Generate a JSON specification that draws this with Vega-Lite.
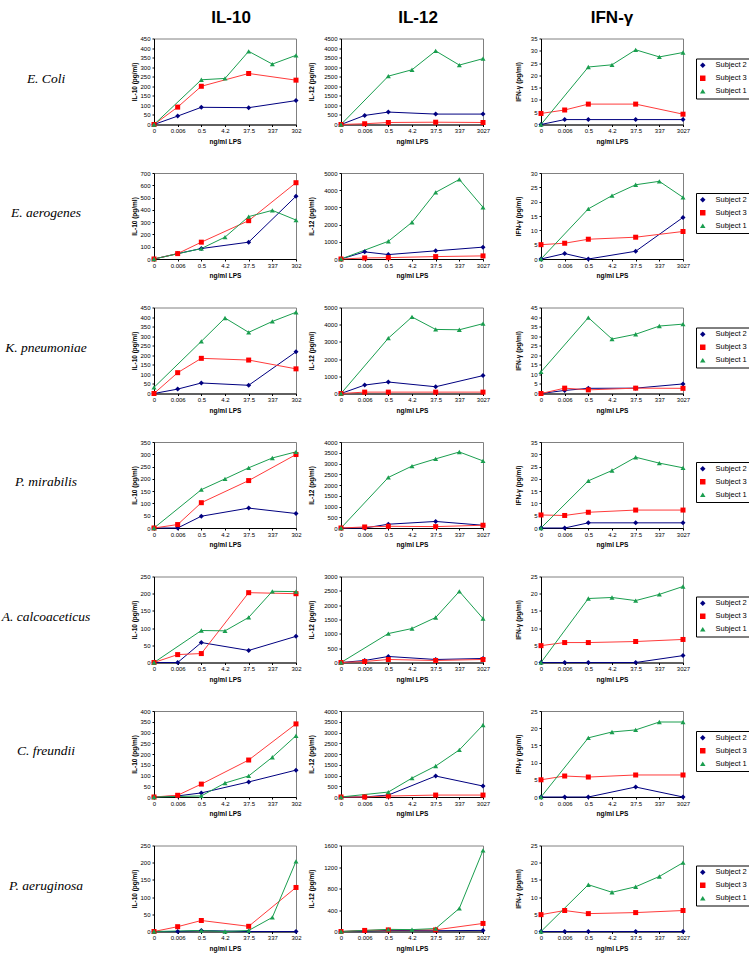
{
"$schema":"https://vega.github.io/schema/vega-lite/v6.json",
"background":"white",
"padding":{"top":7.5,"left":0,"right":0,"bottom":0},
"config":{
"numberFormat":"d",
"view":{"stroke":"#808080","strokeWidth":1},
"axis":{"labelFont":"Liberation Sans","labelFontSize":6,"labelColor":"#000","titleFont":"Liberation Sans","titleFontSize":6.5,"titleFontWeight":"bold","titleColor":"#000","tickColor":"#000","tickSize":2,"domainColor":"#000","grid":false,"labelOverlap":false},
"axisX":{"labelAngle":0,"labelPadding":1,"titlePadding":4.5},
"axisY":{"labelPadding":2},
"legend":{"labelFont":"Liberation Sans","labelFontSize":7.5,"labelColor":"#000","strokeColor":"#000","fillColor":"#fff","padding":3,"symbolSize":30,"rowPadding":4,"labelOffset":9,"symbolStrokeWidth":0},
"line":{"strokeWidth":1},
"point":{"filled":true,"opacity":1,"size":25}
},
"datasets":{
"ec_10":[{"dose":0,"subject":"Subject 2","value":0},{"dose":0.006,"subject":"Subject 2","value":44},{"dose":0.5,"subject":"Subject 2","value":90},{"dose":37.5,"subject":"Subject 2","value":88},{"dose":3027,"subject":"Subject 2","value":125},{"dose":0,"subject":"Subject 3","value":0},{"dose":0.006,"subject":"Subject 3","value":91},{"dose":0.5,"subject":"Subject 3","value":200},{"dose":37.5,"subject":"Subject 3","value":267},{"dose":3027,"subject":"Subject 3","value":232},{"dose":0,"subject":"Subject 1","value":0},{"dose":0.5,"subject":"Subject 1","value":234},{"dose":4.2,"subject":"Subject 1","value":241},{"dose":37.5,"subject":"Subject 1","value":383},{"dose":337,"subject":"Subject 1","value":316},{"dose":3027,"subject":"Subject 1","value":362}],
"ec_12":[{"dose":0,"subject":"Subject 2","value":0},{"dose":0.006,"subject":"Subject 2","value":475},{"dose":0.5,"subject":"Subject 2","value":650},{"dose":37.5,"subject":"Subject 2","value":545},{"dose":3027,"subject":"Subject 2","value":545},{"dose":0,"subject":"Subject 3","value":0},{"dose":0.006,"subject":"Subject 3","value":40},{"dose":0.5,"subject":"Subject 3","value":105},{"dose":37.5,"subject":"Subject 3","value":120},{"dose":3027,"subject":"Subject 3","value":105},{"dose":0,"subject":"Subject 1","value":0},{"dose":0.5,"subject":"Subject 1","value":2530},{"dose":4.2,"subject":"Subject 1","value":2865},{"dose":37.5,"subject":"Subject 1","value":3850},{"dose":337,"subject":"Subject 1","value":3110},{"dose":3027,"subject":"Subject 1","value":3445}],
"ec_g":[{"dose":0,"subject":"Subject 2","value":0},{"dose":0.006,"subject":"Subject 2","value":2},{"dose":0.5,"subject":"Subject 2","value":2},{"dose":37.5,"subject":"Subject 2","value":2},{"dose":3027,"subject":"Subject 2","value":2},{"dose":0,"subject":"Subject 3","value":4.5},{"dose":0.006,"subject":"Subject 3","value":5.9},{"dose":0.5,"subject":"Subject 3","value":8.3},{"dose":37.5,"subject":"Subject 3","value":8.3},{"dose":3027,"subject":"Subject 3","value":4.2},{"dose":0,"subject":"Subject 1","value":0},{"dose":0.5,"subject":"Subject 1","value":23.4},{"dose":4.2,"subject":"Subject 1","value":24.3},{"dose":37.5,"subject":"Subject 1","value":30.4},{"dose":337,"subject":"Subject 1","value":27.5},{"dose":3027,"subject":"Subject 1","value":29.3}],
"ea_10":[{"dose":0,"subject":"Subject 2","value":0},{"dose":0.006,"subject":"Subject 2","value":44},{"dose":0.5,"subject":"Subject 2","value":85},{"dose":37.5,"subject":"Subject 2","value":137},{"dose":3027,"subject":"Subject 2","value":511},{"dose":0,"subject":"Subject 3","value":0},{"dose":0.006,"subject":"Subject 3","value":44},{"dose":0.5,"subject":"Subject 3","value":137},{"dose":37.5,"subject":"Subject 3","value":312},{"dose":3027,"subject":"Subject 3","value":621},{"dose":0,"subject":"Subject 1","value":0},{"dose":0.5,"subject":"Subject 1","value":85},{"dose":4.2,"subject":"Subject 1","value":178},{"dose":37.5,"subject":"Subject 1","value":345},{"dose":337,"subject":"Subject 1","value":396},{"dose":3027,"subject":"Subject 1","value":317}],
"ea_12":[{"dose":0,"subject":"Subject 2","value":0},{"dose":0.006,"subject":"Subject 2","value":415},{"dose":0.5,"subject":"Subject 2","value":257},{"dose":37.5,"subject":"Subject 2","value":474},{"dose":3027,"subject":"Subject 2","value":690},{"dose":0,"subject":"Subject 3","value":0},{"dose":0.006,"subject":"Subject 3","value":60},{"dose":0.5,"subject":"Subject 3","value":80},{"dose":37.5,"subject":"Subject 3","value":140},{"dose":3027,"subject":"Subject 3","value":180},{"dose":0,"subject":"Subject 1","value":0},{"dose":0.5,"subject":"Subject 1","value":1030},{"dose":4.2,"subject":"Subject 1","value":2135},{"dose":37.5,"subject":"Subject 1","value":3875},{"dose":337,"subject":"Subject 1","value":4625},{"dose":3027,"subject":"Subject 1","value":3005}],
"ea_g":[{"dose":0,"subject":"Subject 2","value":0},{"dose":0.006,"subject":"Subject 2","value":1.9},{"dose":0.5,"subject":"Subject 2","value":0},{"dose":37.5,"subject":"Subject 2","value":2.7},{"dose":3027,"subject":"Subject 2","value":14.5},{"dose":0,"subject":"Subject 3","value":5.0},{"dose":0.006,"subject":"Subject 3","value":5.5},{"dose":0.5,"subject":"Subject 3","value":6.9},{"dose":37.5,"subject":"Subject 3","value":7.6},{"dose":3027,"subject":"Subject 3","value":9.6},{"dose":0,"subject":"Subject 1","value":0},{"dose":0.5,"subject":"Subject 1","value":17.5},{"dose":4.2,"subject":"Subject 1","value":22.1},{"dose":37.5,"subject":"Subject 1","value":25.9},{"dose":337,"subject":"Subject 1","value":27.1},{"dose":3027,"subject":"Subject 1","value":21.5}],
"kp_10":[{"dose":0,"subject":"Subject 2","value":0},{"dose":0.006,"subject":"Subject 2","value":23},{"dose":0.5,"subject":"Subject 2","value":55},{"dose":37.5,"subject":"Subject 2","value":43},{"dose":3027,"subject":"Subject 2","value":218},{"dose":0,"subject":"Subject 3","value":0},{"dose":0.006,"subject":"Subject 3","value":109},{"dose":0.5,"subject":"Subject 3","value":184},{"dose":37.5,"subject":"Subject 3","value":175},{"dose":3027,"subject":"Subject 3","value":129},{"dose":0,"subject":"Subject 1","value":32},{"dose":0.5,"subject":"Subject 1","value":273},{"dose":4.2,"subject":"Subject 1","value":395},{"dose":37.5,"subject":"Subject 1","value":320},{"dose":337,"subject":"Subject 1","value":377},{"dose":3027,"subject":"Subject 1","value":425}],
"kp_12":[{"dose":0,"subject":"Subject 2","value":0},{"dose":0.006,"subject":"Subject 2","value":490},{"dose":0.5,"subject":"Subject 2","value":667},{"dose":37.5,"subject":"Subject 2","value":392},{"dose":3027,"subject":"Subject 2","value":1040},{"dose":0,"subject":"Subject 3","value":0},{"dose":0.006,"subject":"Subject 3","value":80},{"dose":0.5,"subject":"Subject 3","value":80},{"dose":37.5,"subject":"Subject 3","value":80},{"dose":3027,"subject":"Subject 3","value":80},{"dose":0,"subject":"Subject 1","value":0},{"dose":0.5,"subject":"Subject 1","value":3215},{"dose":4.2,"subject":"Subject 1","value":4450},{"dose":37.5,"subject":"Subject 1","value":3725},{"dose":337,"subject":"Subject 1","value":3705},{"dose":3027,"subject":"Subject 1","value":4060}],
"kp_g":[{"dose":0,"subject":"Subject 2","value":0},{"dose":0.006,"subject":"Subject 2","value":1.6},{"dose":0.5,"subject":"Subject 2","value":2.7},{"dose":37.5,"subject":"Subject 2","value":2.8},{"dose":3027,"subject":"Subject 2","value":5.0},{"dose":0,"subject":"Subject 3","value":0},{"dose":0.006,"subject":"Subject 3","value":2.8},{"dose":0.5,"subject":"Subject 3","value":1.9},{"dose":37.5,"subject":"Subject 3","value":2.8},{"dose":3027,"subject":"Subject 3","value":2.7},{"dose":0,"subject":"Subject 1","value":11.3},{"dose":0.5,"subject":"Subject 1","value":39.7},{"dose":4.2,"subject":"Subject 1","value":28.5},{"dose":37.5,"subject":"Subject 1","value":31.0},{"dose":337,"subject":"Subject 1","value":35.3},{"dose":3027,"subject":"Subject 1","value":36.3}],
"pm_10":[{"dose":0,"subject":"Subject 2","value":0},{"dose":0.006,"subject":"Subject 2","value":0},{"dose":0.5,"subject":"Subject 2","value":48},{"dose":37.5,"subject":"Subject 2","value":81},{"dose":3027,"subject":"Subject 2","value":59},{"dose":0,"subject":"Subject 3","value":0},{"dose":0.006,"subject":"Subject 3","value":14},{"dose":0.5,"subject":"Subject 3","value":103},{"dose":37.5,"subject":"Subject 3","value":193},{"dose":3027,"subject":"Subject 3","value":299},{"dose":0,"subject":"Subject 1","value":0},{"dose":0.5,"subject":"Subject 1","value":156},{"dose":4.2,"subject":"Subject 1","value":200},{"dose":37.5,"subject":"Subject 1","value":245},{"dose":337,"subject":"Subject 1","value":285},{"dose":3027,"subject":"Subject 1","value":310}],
"pm_12":[{"dose":0,"subject":"Subject 2","value":0},{"dose":0.006,"subject":"Subject 2","value":0},{"dose":0.5,"subject":"Subject 2","value":176},{"dose":37.5,"subject":"Subject 2","value":304},{"dose":3027,"subject":"Subject 2","value":128},{"dose":0,"subject":"Subject 3","value":0},{"dose":0.006,"subject":"Subject 3","value":48},{"dose":0.5,"subject":"Subject 3","value":80},{"dose":37.5,"subject":"Subject 3","value":64},{"dose":3027,"subject":"Subject 3","value":128},{"dose":0,"subject":"Subject 1","value":0},{"dose":0.5,"subject":"Subject 1","value":2352},{"dose":4.2,"subject":"Subject 1","value":2880},{"dose":37.5,"subject":"Subject 1","value":3216},{"dose":337,"subject":"Subject 1","value":3536},{"dose":3027,"subject":"Subject 1","value":3120}],
"pm_g":[{"dose":0,"subject":"Subject 2","value":0},{"dose":0.006,"subject":"Subject 2","value":0},{"dose":0.5,"subject":"Subject 2","value":2.1},{"dose":37.5,"subject":"Subject 2","value":2.1},{"dose":3027,"subject":"Subject 2","value":2.1},{"dose":0,"subject":"Subject 3","value":5.3},{"dose":0.006,"subject":"Subject 3","value":5.1},{"dose":0.5,"subject":"Subject 3","value":6.4},{"dose":37.5,"subject":"Subject 3","value":7.3},{"dose":3027,"subject":"Subject 3","value":7.3},{"dose":0,"subject":"Subject 1","value":0},{"dose":0.5,"subject":"Subject 1","value":19.2},{"dose":4.2,"subject":"Subject 1","value":23.4},{"dose":37.5,"subject":"Subject 1","value":28.8},{"dose":337,"subject":"Subject 1","value":26.4},{"dose":3027,"subject":"Subject 1","value":24.5}],
"ac_10":[{"dose":0,"subject":"Subject 2","value":0},{"dose":0.006,"subject":"Subject 2","value":0},{"dose":0.5,"subject":"Subject 2","value":58},{"dose":37.5,"subject":"Subject 2","value":35},{"dose":3027,"subject":"Subject 2","value":76},{"dose":0,"subject":"Subject 3","value":0},{"dose":0.006,"subject":"Subject 3","value":23},{"dose":0.5,"subject":"Subject 3","value":26},{"dose":37.5,"subject":"Subject 3","value":203},{"dose":3027,"subject":"Subject 3","value":200},{"dose":0,"subject":"Subject 1","value":0},{"dose":0.5,"subject":"Subject 1","value":93},{"dose":4.2,"subject":"Subject 1","value":92},{"dose":37.5,"subject":"Subject 1","value":131},{"dose":337,"subject":"Subject 1","value":207},{"dose":3027,"subject":"Subject 1","value":206}],
"ac_12":[{"dose":0,"subject":"Subject 2","value":0},{"dose":0.006,"subject":"Subject 2","value":70},{"dose":0.5,"subject":"Subject 2","value":210},{"dose":37.5,"subject":"Subject 2","value":105},{"dose":3027,"subject":"Subject 2","value":140},{"dose":0,"subject":"Subject 3","value":0},{"dose":0.006,"subject":"Subject 3","value":35},{"dose":0.5,"subject":"Subject 3","value":105},{"dose":37.5,"subject":"Subject 3","value":70},{"dose":3027,"subject":"Subject 3","value":105},{"dose":0,"subject":"Subject 1","value":0},{"dose":0.5,"subject":"Subject 1","value":1010},{"dose":4.2,"subject":"Subject 1","value":1185},{"dose":37.5,"subject":"Subject 1","value":1570},{"dose":337,"subject":"Subject 1","value":2480},{"dose":3027,"subject":"Subject 1","value":1535}],
"ac_g":[{"dose":0,"subject":"Subject 2","value":0},{"dose":0.006,"subject":"Subject 2","value":0},{"dose":0.5,"subject":"Subject 2","value":0},{"dose":37.5,"subject":"Subject 2","value":0},{"dose":3027,"subject":"Subject 2","value":2.0},{"dose":0,"subject":"Subject 3","value":4.9},{"dose":0.006,"subject":"Subject 3","value":5.8},{"dose":0.5,"subject":"Subject 3","value":5.8},{"dose":37.5,"subject":"Subject 3","value":6.1},{"dose":3027,"subject":"Subject 3","value":6.7},{"dose":0,"subject":"Subject 1","value":0},{"dose":0.5,"subject":"Subject 1","value":18.6},{"dose":4.2,"subject":"Subject 1","value":18.9},{"dose":37.5,"subject":"Subject 1","value":18.0},{"dose":337,"subject":"Subject 1","value":19.8},{"dose":3027,"subject":"Subject 1","value":22.1}],
"cf_10":[{"dose":0,"subject":"Subject 2","value":0},{"dose":0.006,"subject":"Subject 2","value":5},{"dose":0.5,"subject":"Subject 2","value":19},{"dose":37.5,"subject":"Subject 2","value":70},{"dose":3027,"subject":"Subject 2","value":125},{"dose":0,"subject":"Subject 3","value":0},{"dose":0.006,"subject":"Subject 3","value":8},{"dose":0.5,"subject":"Subject 3","value":60},{"dose":37.5,"subject":"Subject 3","value":172},{"dose":3027,"subject":"Subject 3","value":340},{"dose":0,"subject":"Subject 1","value":0},{"dose":0.5,"subject":"Subject 1","value":5},{"dose":4.2,"subject":"Subject 1","value":65},{"dose":37.5,"subject":"Subject 1","value":98},{"dose":337,"subject":"Subject 1","value":185},{"dose":3027,"subject":"Subject 1","value":285}],
"cf_12":[{"dose":0,"subject":"Subject 2","value":0},{"dose":0.006,"subject":"Subject 2","value":0},{"dose":0.5,"subject":"Subject 2","value":90},{"dose":37.5,"subject":"Subject 2","value":975},{"dose":3027,"subject":"Subject 2","value":510},{"dose":0,"subject":"Subject 3","value":0},{"dose":0.006,"subject":"Subject 3","value":0},{"dose":0.5,"subject":"Subject 3","value":45},{"dose":37.5,"subject":"Subject 3","value":90},{"dose":3027,"subject":"Subject 3","value":90},{"dose":0,"subject":"Subject 1","value":0},{"dose":0.5,"subject":"Subject 1","value":230},{"dose":4.2,"subject":"Subject 1","value":880},{"dose":37.5,"subject":"Subject 1","value":1440},{"dose":337,"subject":"Subject 1","value":2190},{"dose":3027,"subject":"Subject 1","value":3350}],
"cf_g":[{"dose":0,"subject":"Subject 2","value":0},{"dose":0.006,"subject":"Subject 2","value":0},{"dose":0.5,"subject":"Subject 2","value":0},{"dose":37.5,"subject":"Subject 2","value":2.9},{"dose":3027,"subject":"Subject 2","value":0},{"dose":0,"subject":"Subject 3","value":5.0},{"dose":0.006,"subject":"Subject 3","value":6.1},{"dose":0.5,"subject":"Subject 3","value":5.8},{"dose":37.5,"subject":"Subject 3","value":6.4},{"dose":3027,"subject":"Subject 3","value":6.4},{"dose":0,"subject":"Subject 1","value":0},{"dose":0.5,"subject":"Subject 1","value":17.2},{"dose":4.2,"subject":"Subject 1","value":18.9},{"dose":37.5,"subject":"Subject 1","value":19.5},{"dose":337,"subject":"Subject 1","value":21.8},{"dose":3027,"subject":"Subject 1","value":21.8}],
"pa_10":[{"dose":0,"subject":"Subject 2","value":0},{"dose":0.006,"subject":"Subject 2","value":0},{"dose":0.5,"subject":"Subject 2","value":3},{"dose":37.5,"subject":"Subject 2","value":0},{"dose":3027,"subject":"Subject 2","value":0},{"dose":0,"subject":"Subject 3","value":0},{"dose":0.006,"subject":"Subject 3","value":14},{"dose":0.5,"subject":"Subject 3","value":32},{"dose":37.5,"subject":"Subject 3","value":15},{"dose":3027,"subject":"Subject 3","value":128},{"dose":0,"subject":"Subject 1","value":0},{"dose":0.5,"subject":"Subject 1","value":3},{"dose":4.2,"subject":"Subject 1","value":0},{"dose":37.5,"subject":"Subject 1","value":3},{"dose":337,"subject":"Subject 1","value":41},{"dose":3027,"subject":"Subject 1","value":204}],
"pa_12":[{"dose":0,"subject":"Subject 2","value":0},{"dose":0.006,"subject":"Subject 2","value":10},{"dose":0.5,"subject":"Subject 2","value":20},{"dose":37.5,"subject":"Subject 2","value":15},{"dose":3027,"subject":"Subject 2","value":20},{"dose":0,"subject":"Subject 3","value":0},{"dose":0.006,"subject":"Subject 3","value":20},{"dose":0.5,"subject":"Subject 3","value":30},{"dose":37.5,"subject":"Subject 3","value":30},{"dose":3027,"subject":"Subject 3","value":150},{"dose":0,"subject":"Subject 1","value":0},{"dose":0.5,"subject":"Subject 1","value":40},{"dose":4.2,"subject":"Subject 1","value":35},{"dose":37.5,"subject":"Subject 1","value":55},{"dose":337,"subject":"Subject 1","value":430},{"dose":3027,"subject":"Subject 1","value":1510}],
"pa_g":[{"dose":0,"subject":"Subject 2","value":0},{"dose":0.006,"subject":"Subject 2","value":0},{"dose":0.5,"subject":"Subject 2","value":0},{"dose":37.5,"subject":"Subject 2","value":0},{"dose":3027,"subject":"Subject 2","value":0},{"dose":0,"subject":"Subject 3","value":4.9},{"dose":0.006,"subject":"Subject 3","value":6.1},{"dose":0.5,"subject":"Subject 3","value":5.2},{"dose":37.5,"subject":"Subject 3","value":5.5},{"dose":3027,"subject":"Subject 3","value":6.1},{"dose":0,"subject":"Subject 1","value":0},{"dose":0.5,"subject":"Subject 1","value":13.6},{"dose":4.2,"subject":"Subject 1","value":11.4},{"dose":37.5,"subject":"Subject 1","value":13.0},{"dose":337,"subject":"Subject 1","value":16.0},{"dose":3027,"subject":"Subject 1","value":20.0}]
},
"spacing":23.5,
"resolve":{"scale":{"x":"independent","y":"independent","fill":"independent","stroke":"independent","shape":"independent"},"legend":{"fill":"independent","stroke":"independent","shape":"independent"}},
"vconcat":[
{"spacing":5,"resolve":{"scale":{"x":"independent","y":"independent","fill":"independent","stroke":"independent","shape":"independent"},"legend":{"fill":"independent","stroke":"independent","shape":"independent"}},"hconcat":[
{"spacing":39,"resolve":{"scale":{"x":"independent","y":"independent","fill":"independent","stroke":"independent","shape":"independent"},"legend":{"fill":"independent","stroke":"independent","shape":"independent"}},"hconcat":[
{"width":90,"height":86,"view":{"stroke":"transparent"},"data":{"values":[{"label":"E. Coli"}]},"mark":{"type":"text","font":"Liberation Serif","fontStyle":"italic","fontSize":13.5,"dy":-3,"color":"#000"},"encoding":{"text":{"field":"label","type":"nominal"}}},
{"width":142,"height":86,"data":{"name":"ec_10"},"title":{"text":"IL-10","font":"Liberation Sans","fontSize":17,"fontWeight":"bold","color":"#000","offset":9,"frame":"group","anchor":"middle","dx":6},"encoding":{"x":{"field":"dose","type":"ordinal","scale":{"type":"point","padding":0,"domain":[0,0.006,0.5,4.2,37.5,337,3027]},"axis":{"title":"ng/ml LPS","labelExpr":"datum.value === 3027 ? '302' : datum.label"}},"y":{"field":"value","type":"quantitative","scale":{"domain":[0,450],"nice":false},"axis":{"title":"IL-10 (pg/ml)","values":[0,50,100,150,200,250,300,350,400,450],"titlePadding":2}}},"layer":[{"mark":"line","encoding":{"stroke":{"field":"subject","type":"nominal","scale":{"domain":["Subject 1","Subject 2","Subject 3"],"range":["#1a9e4f","#000080","#ff3b3b"]},"legend":null}}},{"mark":"point","encoding":{"fill":{"field":"subject","type":"nominal","scale":{"domain":["Subject 2","Subject 3","Subject 1"],"range":["#000080","#ff0000","#1a9e4f"]},"legend":null},"shape":{"field":"subject","type":"nominal","scale":{"domain":["Subject 2","Subject 3","Subject 1"],"range":["diamond","square","triangle-up"]},"legend":null}}}]}
]},
{"spacing":23,"resolve":{"scale":{"x":"independent","y":"independent","fill":"independent","stroke":"independent","shape":"independent"},"legend":{"fill":"independent","stroke":"independent","shape":"independent"}},"hconcat":[
{"width":142,"height":86,"data":{"name":"ec_12"},"title":{"text":"IL-12","font":"Liberation Sans","fontSize":17,"fontWeight":"bold","color":"#000","offset":9,"frame":"group","anchor":"middle","dx":6},"encoding":{"x":{"field":"dose","type":"ordinal","scale":{"type":"point","padding":0,"domain":[0,0.006,0.5,4.2,37.5,337,3027]},"axis":{"title":"ng/ml LPS"}},"y":{"field":"value","type":"quantitative","scale":{"domain":[0,4500],"nice":false},"axis":{"title":"IL-12 (pg/ml)","values":[0,500,1000,1500,2000,2500,3000,3500,4000,4500],"titlePadding":9.5}}},"layer":[{"mark":"line","encoding":{"stroke":{"field":"subject","type":"nominal","scale":{"domain":["Subject 1","Subject 2","Subject 3"],"range":["#1a9e4f","#000080","#ff3b3b"]},"legend":null}}},{"mark":"point","encoding":{"fill":{"field":"subject","type":"nominal","scale":{"domain":["Subject 2","Subject 3","Subject 1"],"range":["#000080","#ff0000","#1a9e4f"]},"legend":null},"shape":{"field":"subject","type":"nominal","scale":{"domain":["Subject 2","Subject 3","Subject 1"],"range":["diamond","square","triangle-up"]},"legend":null}}}]},
{"width":142,"height":86,"data":{"name":"ec_g"},"title":{"text":"IFN-γ","font":"Liberation Sans","fontSize":17,"fontWeight":"bold","color":"#000","offset":9,"frame":"group","anchor":"middle"},"encoding":{"x":{"field":"dose","type":"ordinal","scale":{"type":"point","padding":0,"domain":[0,0.006,0.5,4.2,37.5,337,3027]},"axis":{"title":"ng/ml LPS"}},"y":{"field":"value","type":"quantitative","scale":{"domain":[0,35],"nice":false},"axis":{"title":"IFN-γ (pg/ml)","values":[0,5,10,15,20,25,30,35],"titlePadding":9}}},"layer":[{"mark":"line","encoding":{"stroke":{"field":"subject","type":"nominal","scale":{"domain":["Subject 1","Subject 2","Subject 3"],"range":["#1a9e4f","#000080","#ff3b3b"]},"legend":null}}},{"mark":"point","encoding":{"fill":{"field":"subject","type":"nominal","scale":{"domain":["Subject 2","Subject 3","Subject 1"],"range":["#000080","#ff0000","#1a9e4f"]},"legend":{"orient":"none","legendX":155,"legendY":20,"title":null}},"shape":{"field":"subject","type":"nominal","scale":{"domain":["Subject 2","Subject 3","Subject 1"],"range":["diamond","square","triangle-up"]},"legend":{"orient":"none","legendX":155,"legendY":20,"title":null}}}}]}
]}
]},
{"spacing":5,"resolve":{"scale":{"x":"independent","y":"independent","fill":"independent","stroke":"independent","shape":"independent"},"legend":{"fill":"independent","stroke":"independent","shape":"independent"}},"hconcat":[
{"spacing":39,"resolve":{"scale":{"x":"independent","y":"independent","fill":"independent","stroke":"independent","shape":"independent"},"legend":{"fill":"independent","stroke":"independent","shape":"independent"}},"hconcat":[
{"width":90,"height":86,"view":{"stroke":"transparent"},"data":{"values":[{"label":"E. aerogenes"}]},"mark":{"type":"text","font":"Liberation Serif","fontStyle":"italic","fontSize":13.5,"dy":-3,"color":"#000"},"encoding":{"text":{"field":"label","type":"nominal"}}},
{"width":142,"height":86,"data":{"name":"ea_10"},"encoding":{"x":{"field":"dose","type":"ordinal","scale":{"type":"point","padding":0,"domain":[0,0.006,0.5,4.2,37.5,337,3027]},"axis":{"title":"ng/ml LPS","labelExpr":"datum.value === 3027 ? '302' : datum.label"}},"y":{"field":"value","type":"quantitative","scale":{"domain":[0,700],"nice":false},"axis":{"title":"IL-10 (pg/ml)","values":[0,100,200,300,400,500,600,700],"titlePadding":2}}},"layer":[{"mark":"line","encoding":{"stroke":{"field":"subject","type":"nominal","scale":{"domain":["Subject 1","Subject 2","Subject 3"],"range":["#1a9e4f","#000080","#ff3b3b"]},"legend":null}}},{"mark":"point","encoding":{"fill":{"field":"subject","type":"nominal","scale":{"domain":["Subject 2","Subject 3","Subject 1"],"range":["#000080","#ff0000","#1a9e4f"]},"legend":null},"shape":{"field":"subject","type":"nominal","scale":{"domain":["Subject 2","Subject 3","Subject 1"],"range":["diamond","square","triangle-up"]},"legend":null}}}]}
]},
{"spacing":23,"resolve":{"scale":{"x":"independent","y":"independent","fill":"independent","stroke":"independent","shape":"independent"},"legend":{"fill":"independent","stroke":"independent","shape":"independent"}},"hconcat":[
{"width":142,"height":86,"data":{"name":"ea_12"},"encoding":{"x":{"field":"dose","type":"ordinal","scale":{"type":"point","padding":0,"domain":[0,0.006,0.5,4.2,37.5,337,3027]},"axis":{"title":"ng/ml LPS"}},"y":{"field":"value","type":"quantitative","scale":{"domain":[0,5000],"nice":false},"axis":{"title":"IL-12 (pg/ml)","values":[0,1000,2000,3000,4000,5000],"titlePadding":9.5}}},"layer":[{"mark":"line","encoding":{"stroke":{"field":"subject","type":"nominal","scale":{"domain":["Subject 1","Subject 2","Subject 3"],"range":["#1a9e4f","#000080","#ff3b3b"]},"legend":null}}},{"mark":"point","encoding":{"fill":{"field":"subject","type":"nominal","scale":{"domain":["Subject 2","Subject 3","Subject 1"],"range":["#000080","#ff0000","#1a9e4f"]},"legend":null},"shape":{"field":"subject","type":"nominal","scale":{"domain":["Subject 2","Subject 3","Subject 1"],"range":["diamond","square","triangle-up"]},"legend":null}}}]},
{"width":142,"height":86,"data":{"name":"ea_g"},"encoding":{"x":{"field":"dose","type":"ordinal","scale":{"type":"point","padding":0,"domain":[0,0.006,0.5,4.2,37.5,337,3027]},"axis":{"title":"ng/ml LPS"}},"y":{"field":"value","type":"quantitative","scale":{"domain":[0,30],"nice":false},"axis":{"title":"IFN-γ (pg/ml)","values":[0,5,10,15,20,25,30],"titlePadding":9}}},"layer":[{"mark":"line","encoding":{"stroke":{"field":"subject","type":"nominal","scale":{"domain":["Subject 1","Subject 2","Subject 3"],"range":["#1a9e4f","#000080","#ff3b3b"]},"legend":null}}},{"mark":"point","encoding":{"fill":{"field":"subject","type":"nominal","scale":{"domain":["Subject 2","Subject 3","Subject 1"],"range":["#000080","#ff0000","#1a9e4f"]},"legend":{"orient":"none","legendX":155,"legendY":20,"title":null}},"shape":{"field":"subject","type":"nominal","scale":{"domain":["Subject 2","Subject 3","Subject 1"],"range":["diamond","square","triangle-up"]},"legend":{"orient":"none","legendX":155,"legendY":20,"title":null}}}}]}
]}
]},
{"spacing":5,"resolve":{"scale":{"x":"independent","y":"independent","fill":"independent","stroke":"independent","shape":"independent"},"legend":{"fill":"independent","stroke":"independent","shape":"independent"}},"hconcat":[
{"spacing":39,"resolve":{"scale":{"x":"independent","y":"independent","fill":"independent","stroke":"independent","shape":"independent"},"legend":{"fill":"independent","stroke":"independent","shape":"independent"}},"hconcat":[
{"width":90,"height":86,"view":{"stroke":"transparent"},"data":{"values":[{"label":"K. pneumoniae"}]},"mark":{"type":"text","font":"Liberation Serif","fontStyle":"italic","fontSize":13.5,"dy":-3,"color":"#000"},"encoding":{"text":{"field":"label","type":"nominal"}}},
{"width":142,"height":86,"data":{"name":"kp_10"},"encoding":{"x":{"field":"dose","type":"ordinal","scale":{"type":"point","padding":0,"domain":[0,0.006,0.5,4.2,37.5,337,3027]},"axis":{"title":"ng/ml LPS","labelExpr":"datum.value === 3027 ? '302' : datum.label"}},"y":{"field":"value","type":"quantitative","scale":{"domain":[0,450],"nice":false},"axis":{"title":"IL-10 (pg/ml)","values":[0,50,100,150,200,250,300,350,400,450],"titlePadding":2}}},"layer":[{"mark":"line","encoding":{"stroke":{"field":"subject","type":"nominal","scale":{"domain":["Subject 1","Subject 2","Subject 3"],"range":["#1a9e4f","#000080","#ff3b3b"]},"legend":null}}},{"mark":"point","encoding":{"fill":{"field":"subject","type":"nominal","scale":{"domain":["Subject 2","Subject 3","Subject 1"],"range":["#000080","#ff0000","#1a9e4f"]},"legend":null},"shape":{"field":"subject","type":"nominal","scale":{"domain":["Subject 2","Subject 3","Subject 1"],"range":["diamond","square","triangle-up"]},"legend":null}}}]}
]},
{"spacing":23,"resolve":{"scale":{"x":"independent","y":"independent","fill":"independent","stroke":"independent","shape":"independent"},"legend":{"fill":"independent","stroke":"independent","shape":"independent"}},"hconcat":[
{"width":142,"height":86,"data":{"name":"kp_12"},"encoding":{"x":{"field":"dose","type":"ordinal","scale":{"type":"point","padding":0,"domain":[0,0.006,0.5,4.2,37.5,337,3027]},"axis":{"title":"ng/ml LPS"}},"y":{"field":"value","type":"quantitative","scale":{"domain":[0,5000],"nice":false},"axis":{"title":"IL-12 (pg/ml)","values":[0,1000,2000,3000,4000,5000],"titlePadding":9.5}}},"layer":[{"mark":"line","encoding":{"stroke":{"field":"subject","type":"nominal","scale":{"domain":["Subject 1","Subject 2","Subject 3"],"range":["#1a9e4f","#000080","#ff3b3b"]},"legend":null}}},{"mark":"point","encoding":{"fill":{"field":"subject","type":"nominal","scale":{"domain":["Subject 2","Subject 3","Subject 1"],"range":["#000080","#ff0000","#1a9e4f"]},"legend":null},"shape":{"field":"subject","type":"nominal","scale":{"domain":["Subject 2","Subject 3","Subject 1"],"range":["diamond","square","triangle-up"]},"legend":null}}}]},
{"width":142,"height":86,"data":{"name":"kp_g"},"encoding":{"x":{"field":"dose","type":"ordinal","scale":{"type":"point","padding":0,"domain":[0,0.006,0.5,4.2,37.5,337,3027]},"axis":{"title":"ng/ml LPS"}},"y":{"field":"value","type":"quantitative","scale":{"domain":[0,45],"nice":false},"axis":{"title":"IFN-γ (pg/ml)","values":[0,5,10,15,20,25,30,35,40,45],"titlePadding":9}}},"layer":[{"mark":"line","encoding":{"stroke":{"field":"subject","type":"nominal","scale":{"domain":["Subject 1","Subject 2","Subject 3"],"range":["#1a9e4f","#000080","#ff3b3b"]},"legend":null}}},{"mark":"point","encoding":{"fill":{"field":"subject","type":"nominal","scale":{"domain":["Subject 2","Subject 3","Subject 1"],"range":["#000080","#ff0000","#1a9e4f"]},"legend":{"orient":"none","legendX":155,"legendY":20,"title":null}},"shape":{"field":"subject","type":"nominal","scale":{"domain":["Subject 2","Subject 3","Subject 1"],"range":["diamond","square","triangle-up"]},"legend":{"orient":"none","legendX":155,"legendY":20,"title":null}}}}]}
]}
]},
{"spacing":5,"resolve":{"scale":{"x":"independent","y":"independent","fill":"independent","stroke":"independent","shape":"independent"},"legend":{"fill":"independent","stroke":"independent","shape":"independent"}},"hconcat":[
{"spacing":39,"resolve":{"scale":{"x":"independent","y":"independent","fill":"independent","stroke":"independent","shape":"independent"},"legend":{"fill":"independent","stroke":"independent","shape":"independent"}},"hconcat":[
{"width":90,"height":86,"view":{"stroke":"transparent"},"data":{"values":[{"label":"P. mirabilis"}]},"mark":{"type":"text","font":"Liberation Serif","fontStyle":"italic","fontSize":13.5,"dy":-3,"color":"#000"},"encoding":{"text":{"field":"label","type":"nominal"}}},
{"width":142,"height":86,"data":{"name":"pm_10"},"encoding":{"x":{"field":"dose","type":"ordinal","scale":{"type":"point","padding":0,"domain":[0,0.006,0.5,4.2,37.5,337,3027]},"axis":{"title":"ng/ml LPS","labelExpr":"datum.value === 3027 ? '302' : datum.label"}},"y":{"field":"value","type":"quantitative","scale":{"domain":[0,350],"nice":false},"axis":{"title":"IL-10 (pg/ml)","values":[0,50,100,150,200,250,300,350],"titlePadding":2}}},"layer":[{"mark":"line","encoding":{"stroke":{"field":"subject","type":"nominal","scale":{"domain":["Subject 1","Subject 2","Subject 3"],"range":["#1a9e4f","#000080","#ff3b3b"]},"legend":null}}},{"mark":"point","encoding":{"fill":{"field":"subject","type":"nominal","scale":{"domain":["Subject 2","Subject 3","Subject 1"],"range":["#000080","#ff0000","#1a9e4f"]},"legend":null},"shape":{"field":"subject","type":"nominal","scale":{"domain":["Subject 2","Subject 3","Subject 1"],"range":["diamond","square","triangle-up"]},"legend":null}}}]}
]},
{"spacing":23,"resolve":{"scale":{"x":"independent","y":"independent","fill":"independent","stroke":"independent","shape":"independent"},"legend":{"fill":"independent","stroke":"independent","shape":"independent"}},"hconcat":[
{"width":142,"height":86,"data":{"name":"pm_12"},"encoding":{"x":{"field":"dose","type":"ordinal","scale":{"type":"point","padding":0,"domain":[0,0.006,0.5,4.2,37.5,337,3027]},"axis":{"title":"ng/ml LPS"}},"y":{"field":"value","type":"quantitative","scale":{"domain":[0,4000],"nice":false},"axis":{"title":"IL-12 (pg/ml)","values":[0,500,1000,1500,2000,2500,3000,3500,4000],"titlePadding":9.5}}},"layer":[{"mark":"line","encoding":{"stroke":{"field":"subject","type":"nominal","scale":{"domain":["Subject 1","Subject 2","Subject 3"],"range":["#1a9e4f","#000080","#ff3b3b"]},"legend":null}}},{"mark":"point","encoding":{"fill":{"field":"subject","type":"nominal","scale":{"domain":["Subject 2","Subject 3","Subject 1"],"range":["#000080","#ff0000","#1a9e4f"]},"legend":null},"shape":{"field":"subject","type":"nominal","scale":{"domain":["Subject 2","Subject 3","Subject 1"],"range":["diamond","square","triangle-up"]},"legend":null}}}]},
{"width":142,"height":86,"data":{"name":"pm_g"},"encoding":{"x":{"field":"dose","type":"ordinal","scale":{"type":"point","padding":0,"domain":[0,0.006,0.5,4.2,37.5,337,3027]},"axis":{"title":"ng/ml LPS"}},"y":{"field":"value","type":"quantitative","scale":{"domain":[0,35],"nice":false},"axis":{"title":"IFN-γ (pg/ml)","values":[0,5,10,15,20,25,30,35],"titlePadding":9}}},"layer":[{"mark":"line","encoding":{"stroke":{"field":"subject","type":"nominal","scale":{"domain":["Subject 1","Subject 2","Subject 3"],"range":["#1a9e4f","#000080","#ff3b3b"]},"legend":null}}},{"mark":"point","encoding":{"fill":{"field":"subject","type":"nominal","scale":{"domain":["Subject 2","Subject 3","Subject 1"],"range":["#000080","#ff0000","#1a9e4f"]},"legend":{"orient":"none","legendX":155,"legendY":20,"title":null}},"shape":{"field":"subject","type":"nominal","scale":{"domain":["Subject 2","Subject 3","Subject 1"],"range":["diamond","square","triangle-up"]},"legend":{"orient":"none","legendX":155,"legendY":20,"title":null}}}}]}
]}
]},
{"spacing":5,"resolve":{"scale":{"x":"independent","y":"independent","fill":"independent","stroke":"independent","shape":"independent"},"legend":{"fill":"independent","stroke":"independent","shape":"independent"}},"hconcat":[
{"spacing":39,"resolve":{"scale":{"x":"independent","y":"independent","fill":"independent","stroke":"independent","shape":"independent"},"legend":{"fill":"independent","stroke":"independent","shape":"independent"}},"hconcat":[
{"width":90,"height":86,"view":{"stroke":"transparent"},"data":{"values":[{"label":"A. calcoaceticus"}]},"mark":{"type":"text","font":"Liberation Serif","fontStyle":"italic","fontSize":13.5,"dy":-3,"color":"#000"},"encoding":{"text":{"field":"label","type":"nominal"}}},
{"width":142,"height":86,"data":{"name":"ac_10"},"encoding":{"x":{"field":"dose","type":"ordinal","scale":{"type":"point","padding":0,"domain":[0,0.006,0.5,4.2,37.5,337,3027]},"axis":{"title":"ng/ml LPS","labelExpr":"datum.value === 3027 ? '302' : datum.label"}},"y":{"field":"value","type":"quantitative","scale":{"domain":[0,250],"nice":false},"axis":{"title":"IL-10 (pg/ml)","values":[0,50,100,150,200,250],"titlePadding":2}}},"layer":[{"mark":"line","encoding":{"stroke":{"field":"subject","type":"nominal","scale":{"domain":["Subject 1","Subject 2","Subject 3"],"range":["#1a9e4f","#000080","#ff3b3b"]},"legend":null}}},{"mark":"point","encoding":{"fill":{"field":"subject","type":"nominal","scale":{"domain":["Subject 2","Subject 3","Subject 1"],"range":["#000080","#ff0000","#1a9e4f"]},"legend":null},"shape":{"field":"subject","type":"nominal","scale":{"domain":["Subject 2","Subject 3","Subject 1"],"range":["diamond","square","triangle-up"]},"legend":null}}}]}
]},
{"spacing":23,"resolve":{"scale":{"x":"independent","y":"independent","fill":"independent","stroke":"independent","shape":"independent"},"legend":{"fill":"independent","stroke":"independent","shape":"independent"}},"hconcat":[
{"width":142,"height":86,"data":{"name":"ac_12"},"encoding":{"x":{"field":"dose","type":"ordinal","scale":{"type":"point","padding":0,"domain":[0,0.006,0.5,4.2,37.5,337,3027]},"axis":{"title":"ng/ml LPS"}},"y":{"field":"value","type":"quantitative","scale":{"domain":[0,3000],"nice":false},"axis":{"title":"IL-12 (pg/ml)","values":[0,500,1000,1500,2000,2500,3000],"titlePadding":9.5}}},"layer":[{"mark":"line","encoding":{"stroke":{"field":"subject","type":"nominal","scale":{"domain":["Subject 1","Subject 2","Subject 3"],"range":["#1a9e4f","#000080","#ff3b3b"]},"legend":null}}},{"mark":"point","encoding":{"fill":{"field":"subject","type":"nominal","scale":{"domain":["Subject 2","Subject 3","Subject 1"],"range":["#000080","#ff0000","#1a9e4f"]},"legend":null},"shape":{"field":"subject","type":"nominal","scale":{"domain":["Subject 2","Subject 3","Subject 1"],"range":["diamond","square","triangle-up"]},"legend":null}}}]},
{"width":142,"height":86,"data":{"name":"ac_g"},"encoding":{"x":{"field":"dose","type":"ordinal","scale":{"type":"point","padding":0,"domain":[0,0.006,0.5,4.2,37.5,337,3027]},"axis":{"title":"ng/ml LPS"}},"y":{"field":"value","type":"quantitative","scale":{"domain":[0,25],"nice":false},"axis":{"title":"IFN-γ (pg/ml)","values":[0,5,10,15,20,25],"titlePadding":9}}},"layer":[{"mark":"line","encoding":{"stroke":{"field":"subject","type":"nominal","scale":{"domain":["Subject 1","Subject 2","Subject 3"],"range":["#1a9e4f","#000080","#ff3b3b"]},"legend":null}}},{"mark":"point","encoding":{"fill":{"field":"subject","type":"nominal","scale":{"domain":["Subject 2","Subject 3","Subject 1"],"range":["#000080","#ff0000","#1a9e4f"]},"legend":{"orient":"none","legendX":155,"legendY":20,"title":null}},"shape":{"field":"subject","type":"nominal","scale":{"domain":["Subject 2","Subject 3","Subject 1"],"range":["diamond","square","triangle-up"]},"legend":{"orient":"none","legendX":155,"legendY":20,"title":null}}}}]}
]}
]},
{"spacing":5,"resolve":{"scale":{"x":"independent","y":"independent","fill":"independent","stroke":"independent","shape":"independent"},"legend":{"fill":"independent","stroke":"independent","shape":"independent"}},"hconcat":[
{"spacing":39,"resolve":{"scale":{"x":"independent","y":"independent","fill":"independent","stroke":"independent","shape":"independent"},"legend":{"fill":"independent","stroke":"independent","shape":"independent"}},"hconcat":[
{"width":90,"height":86,"view":{"stroke":"transparent"},"data":{"values":[{"label":"C. freundii"}]},"mark":{"type":"text","font":"Liberation Serif","fontStyle":"italic","fontSize":13.5,"dy":-3,"color":"#000"},"encoding":{"text":{"field":"label","type":"nominal"}}},
{"width":142,"height":86,"data":{"name":"cf_10"},"encoding":{"x":{"field":"dose","type":"ordinal","scale":{"type":"point","padding":0,"domain":[0,0.006,0.5,4.2,37.5,337,3027]},"axis":{"title":"ng/ml LPS","labelExpr":"datum.value === 3027 ? '302' : datum.label"}},"y":{"field":"value","type":"quantitative","scale":{"domain":[0,400],"nice":false},"axis":{"title":"IL-10 (pg/ml)","values":[0,50,100,150,200,250,300,350,400],"titlePadding":2}}},"layer":[{"mark":"line","encoding":{"stroke":{"field":"subject","type":"nominal","scale":{"domain":["Subject 1","Subject 2","Subject 3"],"range":["#1a9e4f","#000080","#ff3b3b"]},"legend":null}}},{"mark":"point","encoding":{"fill":{"field":"subject","type":"nominal","scale":{"domain":["Subject 2","Subject 3","Subject 1"],"range":["#000080","#ff0000","#1a9e4f"]},"legend":null},"shape":{"field":"subject","type":"nominal","scale":{"domain":["Subject 2","Subject 3","Subject 1"],"range":["diamond","square","triangle-up"]},"legend":null}}}]}
]},
{"spacing":23,"resolve":{"scale":{"x":"independent","y":"independent","fill":"independent","stroke":"independent","shape":"independent"},"legend":{"fill":"independent","stroke":"independent","shape":"independent"}},"hconcat":[
{"width":142,"height":86,"data":{"name":"cf_12"},"encoding":{"x":{"field":"dose","type":"ordinal","scale":{"type":"point","padding":0,"domain":[0,0.006,0.5,4.2,37.5,337,3027]},"axis":{"title":"ng/ml LPS"}},"y":{"field":"value","type":"quantitative","scale":{"domain":[0,4000],"nice":false},"axis":{"title":"IL-12 (pg/ml)","values":[0,500,1000,1500,2000,2500,3000,3500,4000],"titlePadding":9.5}}},"layer":[{"mark":"line","encoding":{"stroke":{"field":"subject","type":"nominal","scale":{"domain":["Subject 1","Subject 2","Subject 3"],"range":["#1a9e4f","#000080","#ff3b3b"]},"legend":null}}},{"mark":"point","encoding":{"fill":{"field":"subject","type":"nominal","scale":{"domain":["Subject 2","Subject 3","Subject 1"],"range":["#000080","#ff0000","#1a9e4f"]},"legend":null},"shape":{"field":"subject","type":"nominal","scale":{"domain":["Subject 2","Subject 3","Subject 1"],"range":["diamond","square","triangle-up"]},"legend":null}}}]},
{"width":142,"height":86,"data":{"name":"cf_g"},"encoding":{"x":{"field":"dose","type":"ordinal","scale":{"type":"point","padding":0,"domain":[0,0.006,0.5,4.2,37.5,337,3027]},"axis":{"title":"ng/ml LPS"}},"y":{"field":"value","type":"quantitative","scale":{"domain":[0,25],"nice":false},"axis":{"title":"IFN-γ (pg/ml)","values":[0,5,10,15,20,25],"titlePadding":9}}},"layer":[{"mark":"line","encoding":{"stroke":{"field":"subject","type":"nominal","scale":{"domain":["Subject 1","Subject 2","Subject 3"],"range":["#1a9e4f","#000080","#ff3b3b"]},"legend":null}}},{"mark":"point","encoding":{"fill":{"field":"subject","type":"nominal","scale":{"domain":["Subject 2","Subject 3","Subject 1"],"range":["#000080","#ff0000","#1a9e4f"]},"legend":{"orient":"none","legendX":155,"legendY":20,"title":null}},"shape":{"field":"subject","type":"nominal","scale":{"domain":["Subject 2","Subject 3","Subject 1"],"range":["diamond","square","triangle-up"]},"legend":{"orient":"none","legendX":155,"legendY":20,"title":null}}}}]}
]}
]},
{"spacing":5,"resolve":{"scale":{"x":"independent","y":"independent","fill":"independent","stroke":"independent","shape":"independent"},"legend":{"fill":"independent","stroke":"independent","shape":"independent"}},"hconcat":[
{"spacing":39,"resolve":{"scale":{"x":"independent","y":"independent","fill":"independent","stroke":"independent","shape":"independent"},"legend":{"fill":"independent","stroke":"independent","shape":"independent"}},"hconcat":[
{"width":90,"height":86,"view":{"stroke":"transparent"},"data":{"values":[{"label":"P. aeruginosa"}]},"mark":{"type":"text","font":"Liberation Serif","fontStyle":"italic","fontSize":13.5,"dy":-3,"color":"#000"},"encoding":{"text":{"field":"label","type":"nominal"}}},
{"width":142,"height":86,"data":{"name":"pa_10"},"encoding":{"x":{"field":"dose","type":"ordinal","scale":{"type":"point","padding":0,"domain":[0,0.006,0.5,4.2,37.5,337,3027]},"axis":{"title":"ng/ml LPS","labelExpr":"datum.value === 3027 ? '302' : datum.label"}},"y":{"field":"value","type":"quantitative","scale":{"domain":[0,250],"nice":false},"axis":{"title":"IL-10 (pg/ml)","values":[0,50,100,150,200,250],"titlePadding":2}}},"layer":[{"mark":"line","encoding":{"stroke":{"field":"subject","type":"nominal","scale":{"domain":["Subject 1","Subject 2","Subject 3"],"range":["#1a9e4f","#000080","#ff3b3b"]},"legend":null}}},{"mark":"point","encoding":{"fill":{"field":"subject","type":"nominal","scale":{"domain":["Subject 2","Subject 3","Subject 1"],"range":["#000080","#ff0000","#1a9e4f"]},"legend":null},"shape":{"field":"subject","type":"nominal","scale":{"domain":["Subject 2","Subject 3","Subject 1"],"range":["diamond","square","triangle-up"]},"legend":null}}}]}
]},
{"spacing":23,"resolve":{"scale":{"x":"independent","y":"independent","fill":"independent","stroke":"independent","shape":"independent"},"legend":{"fill":"independent","stroke":"independent","shape":"independent"}},"hconcat":[
{"width":142,"height":86,"data":{"name":"pa_12"},"encoding":{"x":{"field":"dose","type":"ordinal","scale":{"type":"point","padding":0,"domain":[0,0.006,0.5,4.2,37.5,337,3027]},"axis":{"title":"ng/ml LPS"}},"y":{"field":"value","type":"quantitative","scale":{"domain":[0,1600],"nice":false},"axis":{"title":"IL-12 (pg/ml)","values":[0,400,800,1200,1600],"titlePadding":9.5}}},"layer":[{"mark":"line","encoding":{"stroke":{"field":"subject","type":"nominal","scale":{"domain":["Subject 1","Subject 2","Subject 3"],"range":["#1a9e4f","#000080","#ff3b3b"]},"legend":null}}},{"mark":"point","encoding":{"fill":{"field":"subject","type":"nominal","scale":{"domain":["Subject 2","Subject 3","Subject 1"],"range":["#000080","#ff0000","#1a9e4f"]},"legend":null},"shape":{"field":"subject","type":"nominal","scale":{"domain":["Subject 2","Subject 3","Subject 1"],"range":["diamond","square","triangle-up"]},"legend":null}}}]},
{"width":142,"height":86,"data":{"name":"pa_g"},"encoding":{"x":{"field":"dose","type":"ordinal","scale":{"type":"point","padding":0,"domain":[0,0.006,0.5,4.2,37.5,337,3027]},"axis":{"title":"ng/ml LPS"}},"y":{"field":"value","type":"quantitative","scale":{"domain":[0,25],"nice":false},"axis":{"title":"IFN-γ (pg/ml)","values":[0,5,10,15,20,25],"titlePadding":9}}},"layer":[{"mark":"line","encoding":{"stroke":{"field":"subject","type":"nominal","scale":{"domain":["Subject 1","Subject 2","Subject 3"],"range":["#1a9e4f","#000080","#ff3b3b"]},"legend":null}}},{"mark":"point","encoding":{"fill":{"field":"subject","type":"nominal","scale":{"domain":["Subject 2","Subject 3","Subject 1"],"range":["#000080","#ff0000","#1a9e4f"]},"legend":{"orient":"none","legendX":155,"legendY":20,"title":null}},"shape":{"field":"subject","type":"nominal","scale":{"domain":["Subject 2","Subject 3","Subject 1"],"range":["diamond","square","triangle-up"]},"legend":{"orient":"none","legendX":155,"legendY":20,"title":null}}}}]}
]}
]}
]
}
